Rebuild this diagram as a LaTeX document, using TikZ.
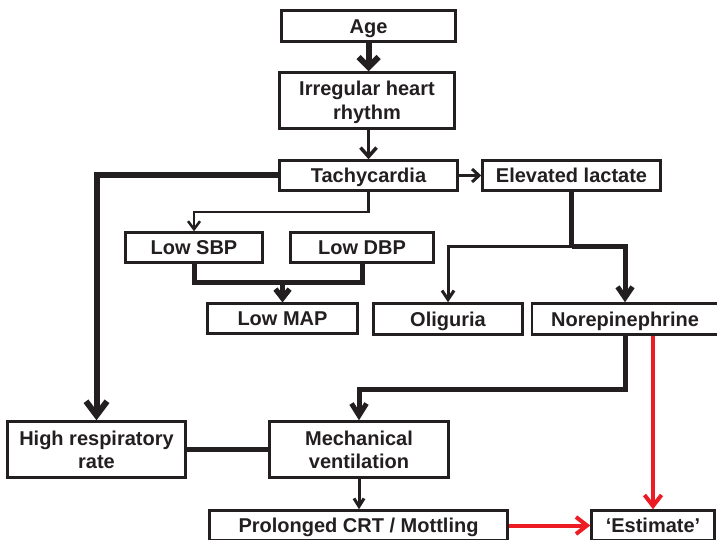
\documentclass[tikz,border=0pt]{standalone}
\usepackage{fontspec}
\setmainfont{Liberation Sans}
\usetikzlibrary{arrows.meta}
\definecolor{ink}{HTML}{231F20}
\definecolor{redline}{HTML}{ED1C24}
\begin{document}
\begin{tikzpicture}[x=1pt,y=-1pt,
  box/.style={draw=ink, line width=2.5pt, font=\fontsize{20}{23.5}\selectfont\bfseries, text=ink, align=center, inner sep=0pt, text height=14.5pt, text depth=0pt},
  twoline/.style={text height=38pt, text depth=0pt},
  conn/.style={draw=ink, line width=#1},
  redconn/.style={draw=redline, line width=4pt, -{Straight Barb[length=11pt,width=17pt]}}
]
\useasboundingbox (0,0) rectangle (717,540);
% nodes
\node[box, minimum width=174pt, minimum height=31pt] (age) at (368.5,26) {Age};
\node[box, twoline, minimum width=175pt, minimum height=56pt] (irr) at (367,100.5) {Irregular heart\\rhythm};
\node[box, minimum width=178pt, minimum height=30pt] (tachy) at (368.5,175.5) {Tachycardia};
\node[box, minimum width=178pt, minimum height=30pt] (lact) at (571.5,175.5) {Elevated lactate};
\node[box, minimum width=137pt, minimum height=30pt] (sbp) at (194,247.5) {Low SBP};
\node[box, minimum width=143pt, minimum height=30pt] (dbp) at (362,247.5) {Low DBP};
\node[box, minimum width=150pt, minimum height=30pt] (map) at (282.5,318.5) {Low MAP};
\node[box, minimum width=149pt, minimum height=31pt] (olig) at (448,319) {Oliguria};
\node[box, minimum width=186pt, minimum height=31pt] (nore) at (625,319) {Norepinephrine};
\node[box, twoline, minimum width=178pt, minimum height=56pt] (hrr) at (96.5,449.5) {High respiratory\\rate};
\node[box, twoline, minimum width=179pt, minimum height=56pt] (mv) at (359,449.5) {Mechanical\\ventilation};
\node[box, minimum width=298pt, minimum height=30pt] (crt) at (358.5,525.5) {Prolonged CRT / Mottling};
\node[box, minimum width=123pt, minimum height=30pt] (est) at (653,525.5) {‘Estimate’};
% connectors
\draw[conn=6pt, -{Straight Barb[length=10pt,width=20pt]}] (age.south) -- (age.south |- irr.north);
\draw[conn=3.5pt, -{Straight Barb[length=9pt,width=16pt]}] (irr.south -| age.south) -- (tachy.north);
\draw[conn=3pt, -{Straight Barb[length=7pt,width=13pt]}] (tachy.east) -- (lact.west);
\draw[conn=6pt, -{Straight Barb[length=14pt,width=21pt]}] (tachy.west) -| (hrr.north);
\draw[conn=2.5pt, -{Straight Barb[length=8pt,width=12pt]}] (tachy.south) -- ++(0,20) -| (sbp.north);
\draw[conn=5pt, -{Straight Barb[length=9pt,width=14pt]}] (sbp.south) -- ++(0,19) -| (map.north);
\draw[conn=5pt, -{Straight Barb[length=9pt,width=14pt]}] (dbp.south) -- ++(0,19) -| (map.north);
\draw[conn=5pt] (lact.south) -- ++(0,55) coordinate (lj);
\draw[conn=3pt, -{Straight Barb[length=9pt,width=12pt]}] (lj) -| (olig.north);
\draw[conn=5pt, -{Straight Barb[length=11pt,width=15pt]}] (lj) -| (nore.north);
\draw[conn=5pt, -{Straight Barb[length=12pt,width=15pt]}] (nore.south) -- ++(0,54) -| (mv.north);
\draw[conn=5pt] (hrr.east) -- (mv.west);
\draw[conn=3pt, -{Straight Barb[length=8pt,width=10pt]}] (mv.south) -- (mv.south |- crt.north);
\draw[redconn] (nore.south -| est.north) -- (est.north);
\draw[redconn] (crt.east) -- (est.west);
\end{tikzpicture}
\end{document}
